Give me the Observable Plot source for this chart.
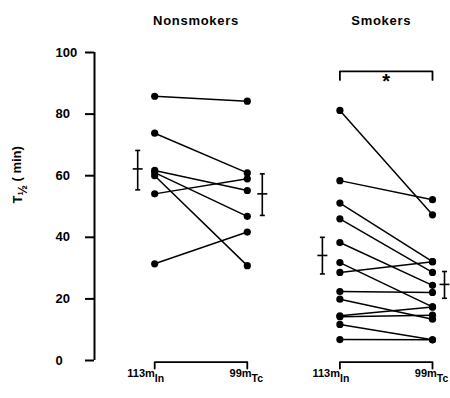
<!DOCTYPE html>
<html>
<head>
<meta charset="utf-8">
<script src="https://cdn.jsdelivr.net/npm/d3@7"></script>
<script src="https://cdn.jsdelivr.net/npm/@observablehq/plot@0.6"></script>
<style>
  html, body { margin: 0; padding: 0; background: #fff; }
  svg { font-family: "Liberation Sans", Arial, sans-serif; font-weight: bold; }
</style>
</head>
<body>
<div id="chart"></div>
<script>
// ---- data ----
const groups = ["Nonsmokers", "Smokers"];
const agents = ["113m_In", "99m_Tc"];
const nonsmokersIn = [85.8, 73.8, 61.7, 61.0, 60.0, 54.1, 31.4];
const nonsmokersTc = [84.2, 60.9, 55.2, 46.8, 30.8, 59.0, 41.7];
const smokersIn = [81.2, 58.4, 51.1, 46.0, 38.3, 31.8, 28.6, 22.4, 19.9, 14.5, 14.2, 11.7, 6.8];
const smokersTc = [47.3, 52.2, 32.1, 28.6, 24.4, 17.4, 32.1, 22.1, 13.4, 17.4, 14.7, 6.7, 6.7];
const meanValues = [62.2, 54.1, 34.1, 24.7];   // Non In, Non Tc, Smk In, Smk Tc
const seLow  = [55.4, 47.1, 28.1, 20.2];
const seHigh = [68.2, 60.6, 40.0, 28.9];
const yTicks = [0, 20, 40, 60, 80, 100];
const yLabel = "T_½_ ( min)";
const significance = "*";

// ---- derived tables ----
const pairs = [];
const pts = [];
[[nonsmokersIn, nonsmokersTc, 0], [smokersIn, smokersTc, 1]].forEach(([a, b, g]) => {
  a.forEach((v, i) => {
    const id = g + "-" + i;
    pairs.push({id, pos: g * 2, v: a[i]}, {id, pos: g * 2 + 1, v: b[i]});
    pts.push({pos: g * 2, v: a[i]}, {pos: g * 2 + 1, v: b[i]});
  });
});
const U = 92.6; // px per x unit
const meanOffsets = [-17, 15, -17.5, 12].map(d => d / U);
const means = meanValues.map((m, i) => ({x: i + meanOffsets[i], m, lo: seLow[i], hi: seHigh[i]}));
const capW = 2.5 / U, meanW = 5 / U;

const brackets = [];
[0, 1].forEach(g => {
  const a = g * 2, b = g * 2 + 1;
  [[a, -2.6], [a, -0.55], [b, -0.55], [b, -2.6]].forEach(([x, y]) => brackets.push({g: "b" + g, x, y}));
});
[[2, 91.1], [2, 93.9], [3, 93.9], [3, 91.1]].forEach(([x, y]) => brackets.push({g: "top", x, y}));

const inLabels = [0, 2].map(x => ({x, t: agents[0]}));
const tcLabels = [1, 3].map(x => ({x, t: agents[1]}));
const titles = groups.map((t, i) => ({x: i * 2 + 0.5, t}));

const chart = Plot.plot({
  width: 450,
  height: 398,
  marginLeft: 94,
  marginRight: 18,
  marginTop: 52,
  marginBottom: 38,
  x: {domain: [-0.65, 3.0], axis: null},
  y: {domain: [0, 100], axis: null},
  style: {fontFamily: "Liberation Sans, Arial, sans-serif", fontWeight: "bold", background: "#fff", color: "#000"},
  marks: [
    Plot.ruleX([-0.65], {y1: 0, y2: 100, strokeWidth: 2}),
    Plot.ruleY(yTicks, {y: d => d, x1: -0.65 - 9 / U, x2: -0.65, strokeWidth: 2}),
    Plot.text(yTicks, {y: d => d, text: d => String(d), frameAnchor: "left", dx: -39, textAnchor: "start", fontSize: 13, fontWeight: "bold"}),
    Plot.line(pairs, {x: "pos", y: "v", z: "id", stroke: "#000", strokeWidth: 1.5}),
    Plot.dot(pts, {x: "pos", y: "v", r: 3.6, fill: "#000"}),
    Plot.link(means, {x1: "x", x2: "x", y1: "lo", y2: "hi", strokeWidth: 1.6}),
    Plot.link(means, {x1: d => d.x - capW, x2: d => d.x + capW, y1: "lo", y2: "lo", strokeWidth: 1.6}),
    Plot.link(means, {x1: d => d.x - capW, x2: d => d.x + capW, y1: "hi", y2: "hi", strokeWidth: 1.6}),
    Plot.link(means, {x1: d => d.x - meanW, x2: d => d.x + meanW, y1: "m", y2: "m", strokeWidth: 1.6}),
    Plot.line(brackets, {x: "x", y: "y", z: "g", stroke: "#000", strokeWidth: 1.8}),
    Plot.text([significance], {x: 2.5, y: 90.4, text: d => d, fontSize: 20, fontWeight: "bold"}),
    Plot.text(titles, {x: "x", y: 110.4, text: "t", dx: -5, fontSize: 13, fontWeight: "bold"}),
    Plot.text(inLabels, {x: "x", y: -4.2, text: "t", dx: -9, fontSize: 11, fontWeight: "bold"}),
    Plot.text(tcLabels, {x: "x", y: -4.2, text: "t", dx: -1, fontSize: 11, fontWeight: "bold"}),
    Plot.text([yLabel], {frameAnchor: "left", y: 51, dx: -77, rotate: -90, text: d => d, fontSize: 13, fontWeight: "bold"})
  ]
});
document.getElementById("chart").appendChild(chart);

// subscripts: split "a_b_c" into tspans
d3.select(chart).selectAll("text").each(function() {
  const s = this.textContent;
  if (!s.includes("_")) return;
  const parts = s.split("_");
  const el = d3.select(this);
  el.text(null);
  parts.forEach((p, i) => {
    const t = el.append("tspan").text(p);
    if (i % 2 === 1) t.attr("dy", "0.45em").attr("font-size", "0.95em");
    else if (i > 0) t.attr("dy", "-0.45em");
  });
});
d3.select(chart).selectAll("text").filter(function() { return this.textContent === groups[0] || this.textContent === groups[1]; })
  .attr("letter-spacing", "0.7px");
</script>
</body>
</html>
